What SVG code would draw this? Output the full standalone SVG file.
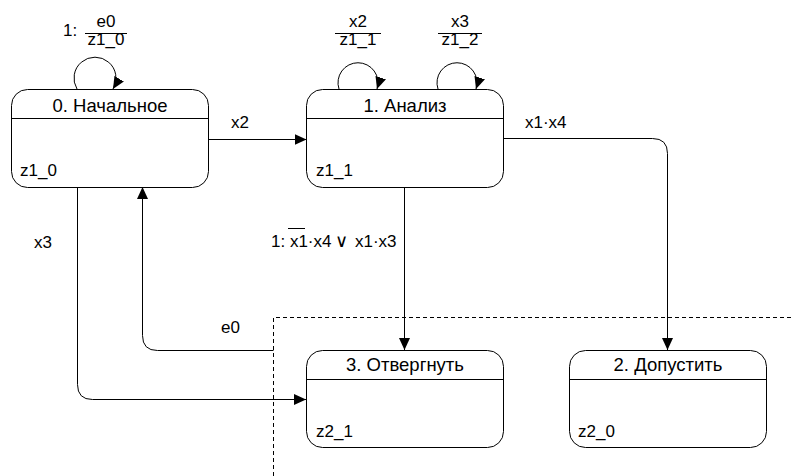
<svg xmlns="http://www.w3.org/2000/svg" width="791" height="476" viewBox="0 0 791 476">
  <style>
    text { font-family: "Liberation Sans", Arial, sans-serif; font-size: 17px; fill: #000; }
    .mid { text-anchor: middle; }
    .title { font-size: 18.5px; }
    .or { font-family: "DejaVu Sans", sans-serif; font-size: 18px; }
    .box { fill: #fff; stroke: #000; stroke-width: 1; }
    .div { stroke: #000; stroke-width: 1; }
    .arrow { fill: none; stroke: #000; stroke-width: 1; marker-end: url(#head); }
    .frac { stroke: #000; stroke-width: 1; }
    .zone { fill: none; stroke: #000; stroke-width: 1; stroke-dasharray: 4 3; }
  </style>
  <defs>
    <marker id="head" markerUnits="userSpaceOnUse" markerWidth="14" markerHeight="12" refX="12" refY="5.5" orient="auto">
      <path d="M0,0 L12,5.5 L0,11 Z" fill="#000"/>
    </marker>
  </defs>

  <!-- dashed zone around final states -->
  <path class="zone" d="M273.5,476 V317.5 H791"/>

  <!-- transitions -->
  <g id="connectors">
    <!-- 0 -> 0 -->
    <path class="arrow" d="M77,89 A21,21 0 1 1 113,89"/>
    <line class="frac" x1="85" y1="33.5" x2="127" y2="33.5"/>
    <text x="63" y="36">1:</text>
    <text class="mid" x="106" y="27">e0</text>
    <text class="mid" x="106" y="45">z1_0</text>

    <!-- 1 -> 1 (x2) -->
    <path class="arrow" d="M339,89 A20,20 0 1 1 377,89"/>
    <line class="frac" x1="335" y1="33.5" x2="381" y2="33.5"/>
    <text class="mid" x="358" y="27">x2</text>
    <text class="mid" x="358" y="45">z1_1</text>

    <!-- 1 -> 1 (x3) -->
    <path class="arrow" d="M438,89 A20,20 0 1 1 476,89"/>
    <line class="frac" x1="438" y1="33.5" x2="482" y2="33.5"/>
    <text class="mid" x="460" y="27">x3</text>
    <text class="mid" x="460" y="45">z1_2</text>

    <!-- 0 -> 1 -->
    <path class="arrow" d="M208.5,139.5 H306.5"/>
    <text x="231" y="128">x2</text>

    <!-- 1 -> 2 -->
    <path class="arrow" d="M503.5,138.5 H652.5 Q667.5,138.5 667.5,153.5 V350"/>
    <text x="525" y="128">x1·x4</text>

    <!-- 1 -> 3 -->
    <path class="arrow" d="M404.5,187 V350"/>
    <line class="frac" x1="288" y1="228.5" x2="305" y2="228.5"/>
    <text x="271" y="247">1: x1·x4 <tspan class="or" x="335" y="247">∨</tspan><tspan x="355" y="247">x1·x3</tspan></text>

    <!-- zone -> 0 -->
    <path class="arrow" d="M273.5,350.5 H157.5 Q142.5,350.5 142.5,335.5 V187"/>
    <text x="221" y="333">e0</text>

    <!-- 0 -> 3 -->
    <path class="arrow" d="M77.5,187 V384.5 Q77.5,399.5 92.5,399.5 H306"/>
    <text x="34" y="248">x3</text>
  </g>

  <!-- states -->
  <g id="state0">
    <rect class="box" x="11.5" y="89.5" width="197" height="98" rx="16"/>
    <line class="div" x1="11.5" y1="118.5" x2="208.5" y2="118.5"/>
    <text class="mid title" x="110" y="112">0. Начальное</text>
    <text x="20" y="176">z1_0</text>
  </g>

  <g id="state1">
    <rect class="box" x="306.5" y="89.5" width="197" height="98" rx="16"/>
    <line class="div" x1="306.5" y1="118.5" x2="503.5" y2="118.5"/>
    <text class="mid title" x="405" y="112">1. Анализ</text>
    <text x="316" y="176">z1_1</text>
  </g>

  <g id="state3">
    <rect class="box" x="306.5" y="350.5" width="197" height="97" rx="16"/>
    <line class="div" x1="306.5" y1="379.5" x2="503.5" y2="379.5"/>
    <text class="mid title" x="405" y="371">3. Отвергнуть</text>
    <text x="316" y="437">z2_1</text>
  </g>

  <g id="state2">
    <rect class="box" x="569.5" y="350.5" width="197" height="97" rx="16"/>
    <line class="div" x1="569.5" y1="379.5" x2="766.5" y2="379.5"/>
    <text class="mid title" x="668" y="371">2. Допустить</text>
    <text x="578" y="437">z2_0</text>
  </g>
</svg>
